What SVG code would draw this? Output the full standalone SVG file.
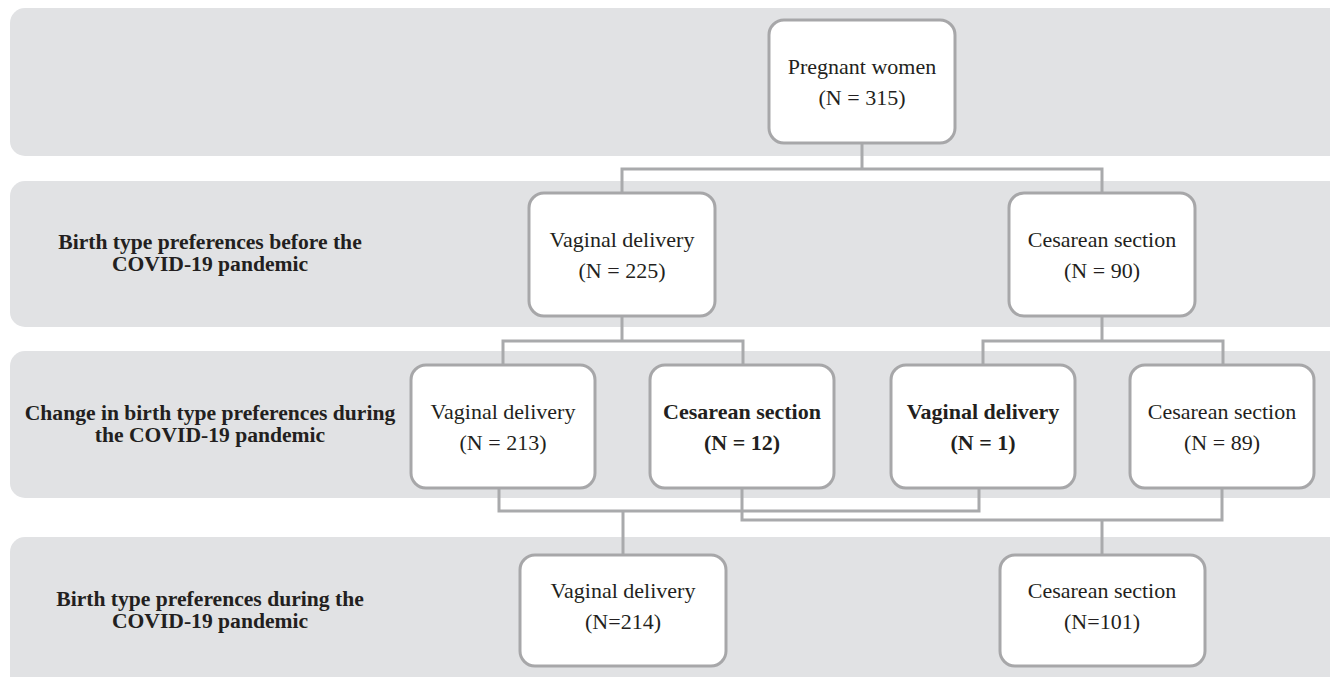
<svg xmlns="http://www.w3.org/2000/svg" width="1330" height="677" viewBox="0 0 1330 677">
<style>
.band{fill:#e1e2e4}
.node rect{fill:#ffffff;stroke:#a7a7a9;stroke-width:3}
.conn{fill:none;stroke:#a9aaac;stroke-width:3}
text{font-family:"Liberation Serif","Times New Roman",serif;font-size:22px;fill:#231f20;text-anchor:middle}
.lbl{font-size:21.6px;font-weight:bold}
.b{font-weight:bold}
</style>
<rect width="1330" height="677" fill="#ffffff"/>
<g id="bands">
<rect class="band" x="10" y="8" width="1340" height="148" rx="15"/>
<rect class="band" x="10" y="181" width="1340" height="146" rx="15"/>
<rect class="band" x="10" y="351" width="1340" height="147" rx="15"/>
<rect class="band" x="10" y="537" width="1340" height="160" rx="15"/>
</g>
<g id="labels">
<text class="lbl" x="210" y="249">Birth type preferences before the</text>
<text class="lbl" x="210" y="271">COVID-19 pandemic</text>
<text class="lbl" x="210" y="420">Change in birth type preferences during</text>
<text class="lbl" x="210" y="442">the COVID-19 pandemic</text>
<text class="lbl" x="210" y="606">Birth type preferences during the</text>
<text class="lbl" x="210" y="628">COVID-19 pandemic</text>
</g>
<g id="connectors" class="conn">
<path d="M862 143V169M622 193V169H1102V193"/>
<path d="M622 316V341M503 365V341H743V365"/>
<path d="M1102 316V341M983 365V341H1223V365"/>
<path d="M499 488V511H979V488M623 511V555"/>
<path d="M742 488V520H1222V488M1102 520V555"/>
</g>
<g id="n-pregnant" class="node">
<rect x="769" y="20" width="186" height="123" rx="15"/>
<text x="862" y="74">Pregnant women</text>
<text x="862" y="105">(N = 315)</text>
</g>
<g id="n-vd225" class="node">
<rect x="529" y="193" width="186" height="123" rx="15"/>
<text x="622" y="247">Vaginal delivery</text>
<text x="622" y="278">(N = 225)</text>
</g>
<g id="n-cs90" class="node">
<rect x="1009" y="193" width="186" height="123" rx="15"/>
<text x="1102" y="247">Cesarean section</text>
<text x="1102" y="278">(N = 90)</text>
</g>
<g id="n-vd213" class="node">
<rect x="411" y="365" width="184" height="123" rx="15"/>
<text x="503" y="419">Vaginal delivery</text>
<text x="503" y="450">(N = 213)</text>
</g>
<g id="n-cs12" class="node">
<rect x="650" y="365" width="184" height="123" rx="15"/>
<text class="b" x="742" y="419">Cesarean section</text>
<text class="b" x="742" y="450">(N = 12)</text>
</g>
<g id="n-vd1" class="node">
<rect x="891" y="365" width="184" height="123" rx="15"/>
<text class="b" x="983" y="419">Vaginal delivery</text>
<text class="b" x="983" y="450">(N = 1)</text>
</g>
<g id="n-cs89" class="node">
<rect x="1130" y="365" width="184" height="123" rx="15"/>
<text x="1222" y="419">Cesarean section</text>
<text x="1222" y="450">(N = 89)</text>
</g>
<g id="n-vd214" class="node">
<rect x="520" y="555" width="206" height="111" rx="15"/>
<text x="623" y="598">Vaginal delivery</text>
<text x="623" y="629">(N=214)</text>
</g>
<g id="n-cs101" class="node">
<rect x="1000" y="555" width="205" height="111" rx="15"/>
<text x="1102" y="598">Cesarean section</text>
<text x="1102" y="629">(N=101)</text>
</g>
</svg>
